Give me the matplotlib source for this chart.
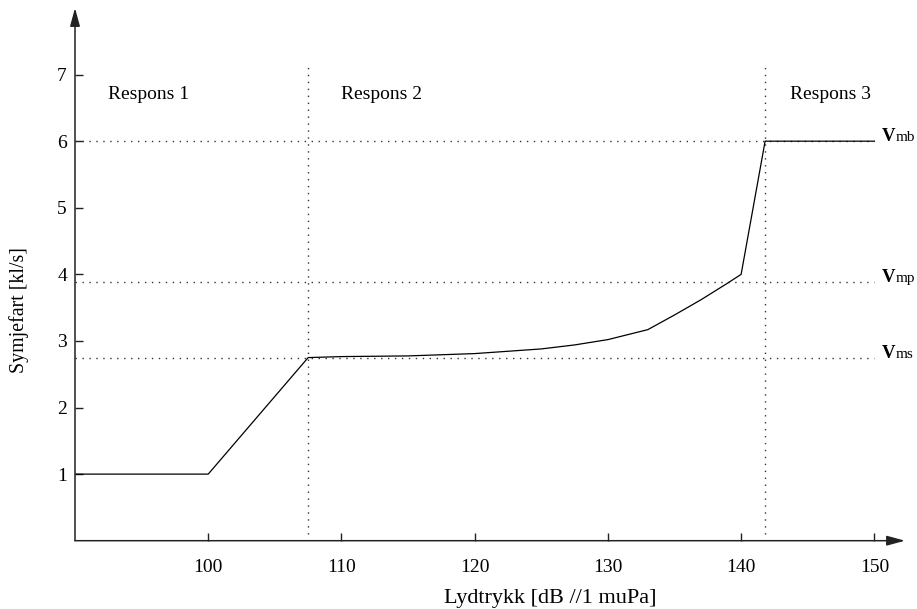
import matplotlib
matplotlib.use("Agg")
import matplotlib.pyplot as plt

plt.rcParams['font.family'] = ['Liberation Serif', 'DejaVu Serif']

# Data
x_vals = [90, 100, 107.5, 110, 115, 120, 125, 127.5, 130, 133, 135, 137, 139, 140, 141.8, 150]
y_vals = [1, 1, 2.75, 2.765, 2.775, 2.81, 2.88, 2.94, 3.02, 3.17, 3.39, 3.62, 3.87, 4.0, 6, 6]
x_ticks = [100, 110, 120, 130, 140, 150]
y_ticks = [1, 2, 3, 4, 5, 6, 7]
v_levels = [6.0, 3.88, 2.75]
v_subs = ['mb', 'mp', 'ms']
region_bounds = [107.5, 141.8]
region_labels = ['Respons 1', 'Respons 2', 'Respons 3']
region_label_x = [92.45, 110.0, 143.7]

W, H = 917, 609
fig = plt.figure(figsize=(W/100, H/100), dpi=100)
ax = fig.add_axes([75/W, (H-540.7)/H, (905-75)/W, (540.7-8)/H])
ax.set_xlim(90, 152.3)
ax.set_ylim(0, 8.0)

for s in ax.spines.values():
    s.set_visible(False)

axis_color = '#222222'
arrow_kw = dict(arrowstyle='-|>,head_length=1.1,head_width=0.3', lw=1.1,
                color=axis_color, shrinkA=0, shrinkB=0, mutation_scale=10)
ax.annotate('', xy=(1, 0), xytext=(0, 0), xycoords='axes fraction',
            textcoords='axes fraction', arrowprops=arrow_kw, annotation_clip=False)
ax.annotate('', xy=(0, 1), xytext=(0, 0), xycoords='axes fraction',
            textcoords='axes fraction', arrowprops=arrow_kw, annotation_clip=False)

ax.set_xticks(x_ticks)
ax.set_yticks(y_ticks)
ax.tick_params(axis='both', direction='in', length=5.8, width=1.0, color=axis_color,
               labelsize=14, top=False, right=False)
ax.tick_params(axis='x', pad=13)
ax.tick_params(axis='y', pad=5.8)

dot_style = dict(color='#333333', lw=1.0, linestyle=(0, (1, 4)))
for yv in v_levels:
    ax.plot([90, 150], [yv, yv], **dot_style)
for xb in region_bounds:
    ax.plot([xb, xb], [0, 7.13], **dot_style)

ax.plot(x_vals, y_vals, color='black', lw=0.9)

for xl, lab in zip(region_label_x, region_labels):
    ax.text(xl, 6.64, lab, fontsize=14, ha='left', va='baseline')

for yv, sub in zip(v_levels, v_subs):
    ax.text(150.56, yv, 'V', fontsize=13.5, fontweight='bold', ha='left', va='baseline')
    ax.text(151.56, yv, sub, fontsize=11, ha='left', va='baseline')

fig.text(550/W, 1-598/H, 'Lydtrykk [dB //1 muPa]', fontsize=16, ha='center', va='center')
fig.text(19.5/W, 1-310/H, 'Symjefart [kl/s]', fontsize=14.3, ha='center', va='center',
         rotation=90)

fig.savefig('out.png', dpi=100)
